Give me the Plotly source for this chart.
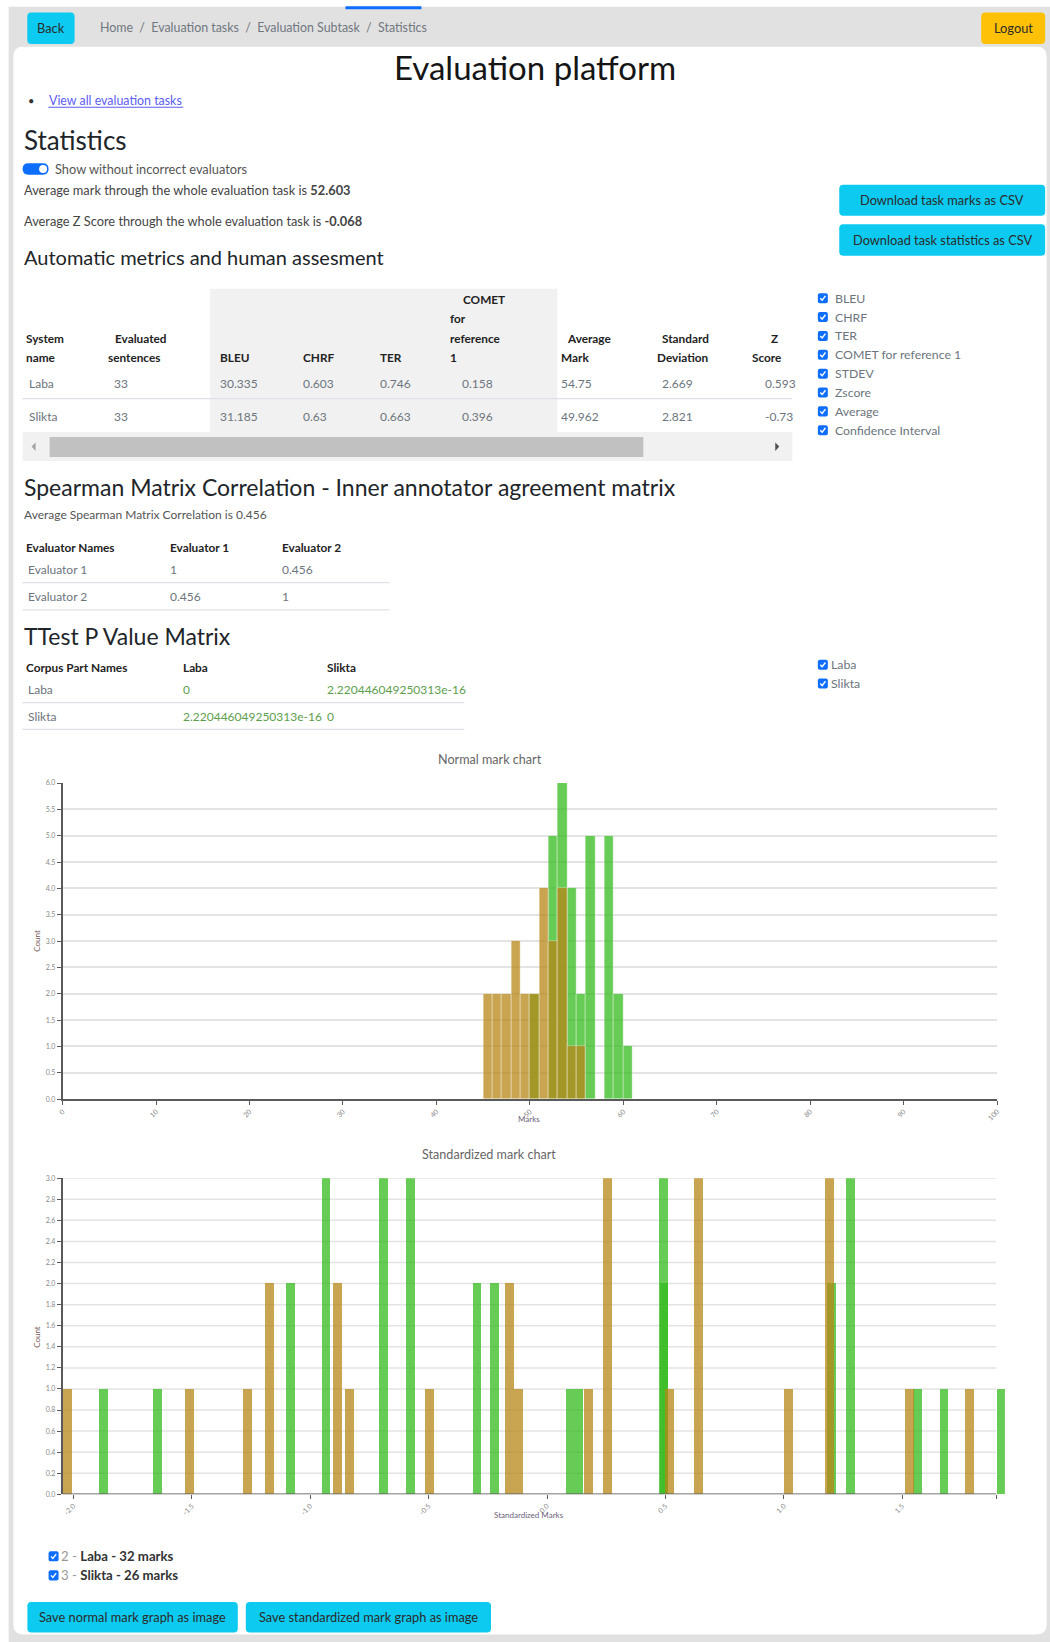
import plotly.graph_objects as go

# ---------------- data ----------------
norm_marks_laba = [50, 52, 53, 54, 55, 56, 58, 59, 60]
norm_counts_laba = [2, 5, 6, 4, 2, 5, 5, 2, 1]
norm_marks_slikta = [45, 46, 47, 48, 49, 50, 51, 52, 53, 54, 55]
norm_counts_slikta = [2, 2, 2, 3, 2, 2, 4, 3, 4, 1, 1]

std_marks_laba = [-1.894, -1.666, -1.105, -0.954, -0.710, -0.596, -0.316, -0.242,
                  0.078, 0.115, 0.472, 0.474, 1.180, 1.260, 1.545, 1.656, 1.897]
std_counts_laba = [1, 1, 2, 3, 3, 3, 2, 2, 1, 1, 3, 2, 2, 3, 1, 1, 1]
std_marks_slikta = [-2.046, -1.531, -1.286, -1.192, -0.905, -0.854, -0.518, -0.178, -0.140,
                    0.156, 0.236, 0.498, 0.618, 1.000, 1.173, 1.509, 1.763]
std_counts_slikta = [1, 1, 1, 2, 2, 1, 1, 2, 1, 1, 3, 1, 3, 1, 3, 1, 1]

metric_headers = [["System", "name"], ["Evaluated", "sentences"], ["BLEU"], ["CHRF"], ["TER"],
                  ["COMET", "for", "reference", "1"], ["Average", "Mark"], ["Standard", "Deviation"], ["Z", "Score"]]
metric_rows = [["Laba", "33", "30.335", "0.603", "0.746", "0.158", "54.75", "2.669", "0.593"],
               ["Slikta", "33", "31.185", "0.63", "0.663", "0.396", "49.962", "2.821", "-0.73"]]
metric_options = ["BLEU", "CHRF", "TER", "COMET for reference 1", "STDEV", "Zscore", "Average", "Confidence Interval"]

spearman_headers = ["Evaluator Names", "Evaluator 1", "Evaluator 2"]
spearman_rows = [["Evaluator 1", "1", "0.456"], ["Evaluator 2", "0.456", "1"]]
ttest_headers = ["Corpus Part Names", "Laba", "Slikta"]
ttest_rows = [["Laba", "0", "2.220446049250313e-16"], ["Slikta", "2.220446049250313e-16", "0"]]
systems = ["Laba", "Slikta"]
system_ids = ["2", "3"]

norm_ticks = list(range(0, 101, 10))
std_ticks = [-2.0, -1.5, -1.0, -0.5, 0.0, 0.5, 1.0, 1.5]

# ---------------- helpers ----------------
W, H = 1050, 1642
FONT = "Lato"
GREEN = "rgba(52,187,28,0.75)"
TAN = "rgba(183,135,24,0.75)"
CYAN = "#0dcaf0"
BLUE = "#0d6efd"
SMALL = 12.8
# page coordinates (as measured on the reference) -> figure coordinates
OX, KX, OY, KY = 4.4, 0.9928, 5.3, 0.9947


def fx(x):
    return (x - OX) / KX


def fy(y):
    return (y - OY) / KY


def px(x):
    return fx(x) / W


def py(y):
    return 1 - fy(y) / H


shapes = []
annotations = []


def rect(x0, y0, x1, y1, fill, r=0):
    if r == 0:
        shapes.append(dict(type="rect", xref="paper", yref="paper", x0=px(x0), x1=px(x1),
                           y0=py(y1), y1=py(y0), fillcolor=fill, line=dict(width=0), layer="below"))
    else:
        rx, ry = r / W, r / H
        X0, X1, YT, YB = px(x0), px(x1), py(y0), py(y1)
        p = (f"M {X0+rx},{YT} L {X1-rx},{YT} Q {X1},{YT} {X1},{YT-ry} L {X1},{YB+ry} "
             f"Q {X1},{YB} {X1-rx},{YB} L {X0+rx},{YB} Q {X0},{YB} {X0},{YB+ry} "
             f"L {X0},{YT-ry} Q {X0},{YT} {X0+rx},{YT} Z")
        shapes.append(dict(type="path", xref="paper", yref="paper", path=p, fillcolor=fill,
                           line=dict(width=0), layer="below"))


def hline(x0, x1, y, color="#dee2e6", w=1.2):
    shapes.append(dict(type="line", xref="paper", yref="paper", x0=px(x0), x1=px(x1), y0=py(y), y1=py(y),
                       line=dict(color=color, width=w), layer="below"))


def poly(pts, fill):
    p = "M " + " L ".join(f"{px(a)},{py(b)}" for a, b in pts) + " Z"
    shapes.append(dict(type="path", xref="paper", yref="paper", path=p, fillcolor=fill,
                       line=dict(width=0), layer="below"))


def txt(x, y, s, size=SMALL, color="#212529", anchor="left", angle=0):
    annotations.append(dict(xref="paper", yref="paper", x=px(x), y=py(y), text=s, showarrow=False,
                            xanchor=anchor, yanchor="middle", textangle=angle,
                            font=dict(size=size, color=color, family=FONT)))


def checkbox(x, y, s=10):
    rect(x, y - s / 2, x + s, y + s / 2, BLUE, r=2)
    p = f"M {px(x+2.4)},{py(y)} L {px(x+4.3)},{py(y+2)} L {px(x+7.6)},{py(y-2.3)}"
    shapes.append(dict(type="path", xref="paper", yref="paper", path=p,
                       line=dict(color="white", width=1.4), layer="below"))


def button(x0, y0, x1, y1, label, fill=CYAN):
    rect(x0, y0, x1, y1, fill, r=4)
    txt((x0 + x1) / 2, (y0 + y1) / 2, label, 12.8, "#2b2b2b", "center")


# ---------------- page frame ----------------
rect(8, 7, 1052, 1645, "#e1e1e1")
rect(345, 6.5, 421, 9.5, BLUE)
rect(12.7, 47, 1046.5, 1634, "white", r=10)
button(26.7, 12.7, 74, 44.3, "Back")
txt(97, 27.3, "Home  /  Evaluation tasks  /  Evaluation Subtask  /  Statistics", 12.4, "#707780")
button(981, 12.7, 1045, 44.3, "Logout", "#ffc107")

txt(534.5, 67, "Evaluation platform", 33, "#151515", "center")
txt(30, 100.5, "•", 11, "#333", "center")
txt(46.5, 100.5, "View all evaluation tasks", 12.4, "#5b5cf2")
hline(47.7, 182.7, 107.5, "#5b5cf2", 1)

txt(21, 140, "Statistics", 26)
rect(22, 163.5, 48, 175, BLUE, r=5.7)
shapes.append(dict(type="circle", xref="paper", yref="paper", x0=px(38.5), x1=px(46.5),
                   y0=py(173.2), y1=py(165.2), fillcolor="white", line=dict(width=0), layer="below"))
txt(52.5, 169, "Show without incorrect evaluators", SMALL, "#555")
txt(21, 190.7, "Average mark through the whole evaluation task is <b>52.603</b>", SMALL, "#444")
txt(21, 221.7, "Average Z Score through the whole evaluation task is <b>-0.068</b>", SMALL, "#444")
txt(21, 256.7, "Automatic metrics and human assesment", 20)
button(839, 185, 1045, 216, "Download task marks as CSV")
button(839, 224.5, 1045, 256, "Download task statistics as CSV")

# metrics table
rect(209.6, 289, 557, 432, "#f1f1f1")
head_x = [[23, 23], [112, 105], [217.5], [301], [378], [460.8, 447.4, 447.4, 447.4],
          [564.6, 559], [659.7, 654.4], [769, 750]]
line_y = [299.3, 319, 338.3, 357.3]
for xs, lines in zip(head_x, metric_headers):
    for i, (hx, s) in enumerate(zip(xs, lines)):
        yy = line_y[len(line_y) - len(lines) + i]
        txt(hx, yy, f"<b>{s}</b>", 11.8, "#222")
row_x = [26, 111, 217, 301, 378, 460, 559, 660, 763]
for ry, row in zip([383.3, 416.7], metric_rows):
    for rx_, s in zip(row_x, row):
        txt(rx_, ry, s, 12, "#6c757d")
hline(22, 792, 398.7)
rect(22, 432, 792, 461, "#f1f1f1")
rect(49, 437, 643, 457, "#c1c1c1")
poly([(31, 446.7), (35, 442.5), (35, 451)], "#a3a3a3")
poly([(779, 446.7), (775, 442.5), (775, 451)], "#505050")
for i, s in enumerate(metric_options):
    yy = 298.4 + i * 18.85
    checkbox(817.6, yy)
    txt(833, yy, s, 12.3, "#6c757d")

# spearman
txt(21, 486.7, "Spearman Matrix Correlation - Inner annotator agreement matrix", 23)
txt(21, 514.3, "Average Spearman Matrix Correlation is 0.456", 12, "#555")
sp_x = [23, 167, 280]
for hx, s in zip(sp_x, spearman_headers):
    txt(hx, 547.7, f"<b>{s}</b>", 11.8, "#222")
for ry, row in zip([569.3, 596.7], spearman_rows):
    for j, (hx, s) in enumerate(zip(sp_x, row)):
        txt(hx + (2 if j == 0 else 0), ry, s, 12, "#6c757d")
hline(22, 389, 582.7)
hline(22, 389, 610)

# ttest
txt(21, 636, "TTest P Value Matrix", 23)
tt_x = [23, 180.5, 324.5]
for hx, s in zip(tt_x, ttest_headers):
    txt(hx, 667.7, f"<b>{s}</b>", 11.8, "#222")
for ry, row in zip([690, 716.7], ttest_rows):
    for j, (hx, s) in enumerate(zip(tt_x, row)):
        txt(hx + (2 if j == 0 else 0), ry, s, 12, "#6c757d" if j == 0 else "#5c9e4c")
hline(22, 464, 702.7)
hline(22, 464, 729.3)
for i, s in enumerate(systems):
    yy = 664.8 + i * 18.8
    checkbox(817.6, yy)
    txt(828.5, yy, s, 12.3, "#6c757d")

# chart titles & axis titles
txt(490, 759, "Normal mark chart", 12.6, "#666", "center")
txt(37, 941, "Count", 8, "#7a5a5a", "center", -90)
txt(529, 1118.5, "Marks", 8, "#6a5f78", "center")
txt(489, 1154, "Standardized mark chart", 12.6, "#666", "center")
txt(37, 1337, "Count", 8, "#7a5a5a", "center", -90)
txt(529, 1514.5, "Standardized Marks", 8, "#6a5f78", "center")

# legend & save buttons
totals = [sum(norm_counts_laba), sum(norm_counts_slikta)]
for i, (sid, s, n) in enumerate(zip(system_ids, systems, totals)):
    yy = 1556 + i * 19
    checkbox(48, yy)
    txt(58.5, yy, f"<span style='color:#999'>{sid} - </span><b>{s} - {n} marks</b>", 13.2, "#333")
button(26.8, 1601.7, 237.3, 1632, "Save normal mark graph as image")
button(245.3, 1601.7, 490.6, 1632, "Save standardized mark graph as image")

# ---------------- charts ----------------
fig = go.Figure()
line_style = dict(color="rgba(255,255,255,0.45)", width=0.8)
fig.add_trace(go.Bar(x=norm_marks_laba, y=norm_counts_laba, width=[1] * len(norm_marks_laba), offset=0,
                     marker=dict(color=GREEN, line=line_style), xaxis="x", yaxis="y", name="Laba",
                     showlegend=False))
fig.add_trace(go.Bar(x=norm_marks_slikta, y=norm_counts_slikta, width=[1] * len(norm_marks_slikta), offset=0,
                     marker=dict(color=TAN, line=line_style), xaxis="x", yaxis="y", name="Slikta",
                     showlegend=False))
bw = 0.037
fig.add_trace(go.Bar(x=std_marks_laba, y=std_counts_laba, width=[bw] * len(std_marks_laba), offset=0,
                     marker=dict(color=GREEN, line=dict(width=0)), xaxis="x2", yaxis="y2", name="Laba",
                     showlegend=False))
fig.add_trace(go.Bar(x=std_marks_slikta, y=std_counts_slikta, width=[bw] * len(std_marks_slikta), offset=0,
                     marker=dict(color=TAN, line=dict(width=0)), xaxis="x2", yaxis="y2", name="Slikta",
                     showlegend=False))

std_min = min(std_marks_laba + std_marks_slikta)
std_max = max(std_marks_laba + std_marks_slikta)
# the last bar sticks out past the axis end, so the plotting area is widened by one bar width
std_x0, std_x1 = 62, 996
std_x1_ext = std_x0 + (std_x1 - std_x0) * (std_max + bw - std_min) / (std_max - std_min)

AXC = "#5a5a5a"
axis_common = dict(ticks="outside", ticklen=4, tickcolor=AXC,
                   tickfont=dict(size=7, color="#8a8a8a", family=FONT), zeroline=False)

std_grid = [round(0.2 * i, 1) for i in range(16)]
for g in std_grid:
    shapes.append(dict(type="line", xref="x2", yref="y2", x0=std_min, x1=std_max, y0=g, y1=g,
                       line=dict(color="#e3e3e3", width=1.5), layer="below"))
shapes.append(dict(type="line", xref="x2", yref="y2", x0=std_min, x1=std_max, y0=0, y1=0,
                   line=dict(color=AXC, width=1.5), layer="above"))

fig.update_layout(
    width=W, height=H, margin=dict(l=0, r=0, t=0, b=0),
    paper_bgcolor="white", plot_bgcolor="rgba(0,0,0,0)", barmode="overlay", bargap=0,
    font=dict(family=FONT),
    xaxis=dict(domain=[px(62), px(997)], range=[0, 100], tickvals=norm_ticks, tickangle=-45,
               showgrid=False, showline=True, linecolor=AXC, linewidth=1.5, anchor="y", **axis_common),
    yaxis=dict(domain=[py(1099), py(783)], range=[0, 6], tick0=0, dtick=0.5, tickformat=".1f",
               showgrid=True, gridcolor="#e3e3e3", gridwidth=1.5, showline=True, linecolor=AXC,
               linewidth=1.5, anchor="x", **axis_common),
    xaxis2=dict(domain=[px(std_x0), px(std_x1_ext)], range=[std_min, std_max + bw],
                tickvals=std_ticks + [std_max], ticktext=[f"{t:.1f}" for t in std_ticks] + [""],
                tickangle=-45, showgrid=False, showline=False, anchor="y2", **axis_common),
    yaxis2=dict(domain=[py(1494), py(1178)], range=[0, 3], tick0=0, dtick=0.2, tickformat=".1f",
                showgrid=False, showline=True, linecolor=AXC, linewidth=1.5, anchor="x2", **axis_common),
    shapes=shapes, annotations=annotations,
)

fig.write_html("out.html", config={"displayModeBar": False},
               post_script="document.body.style.margin='0';")
